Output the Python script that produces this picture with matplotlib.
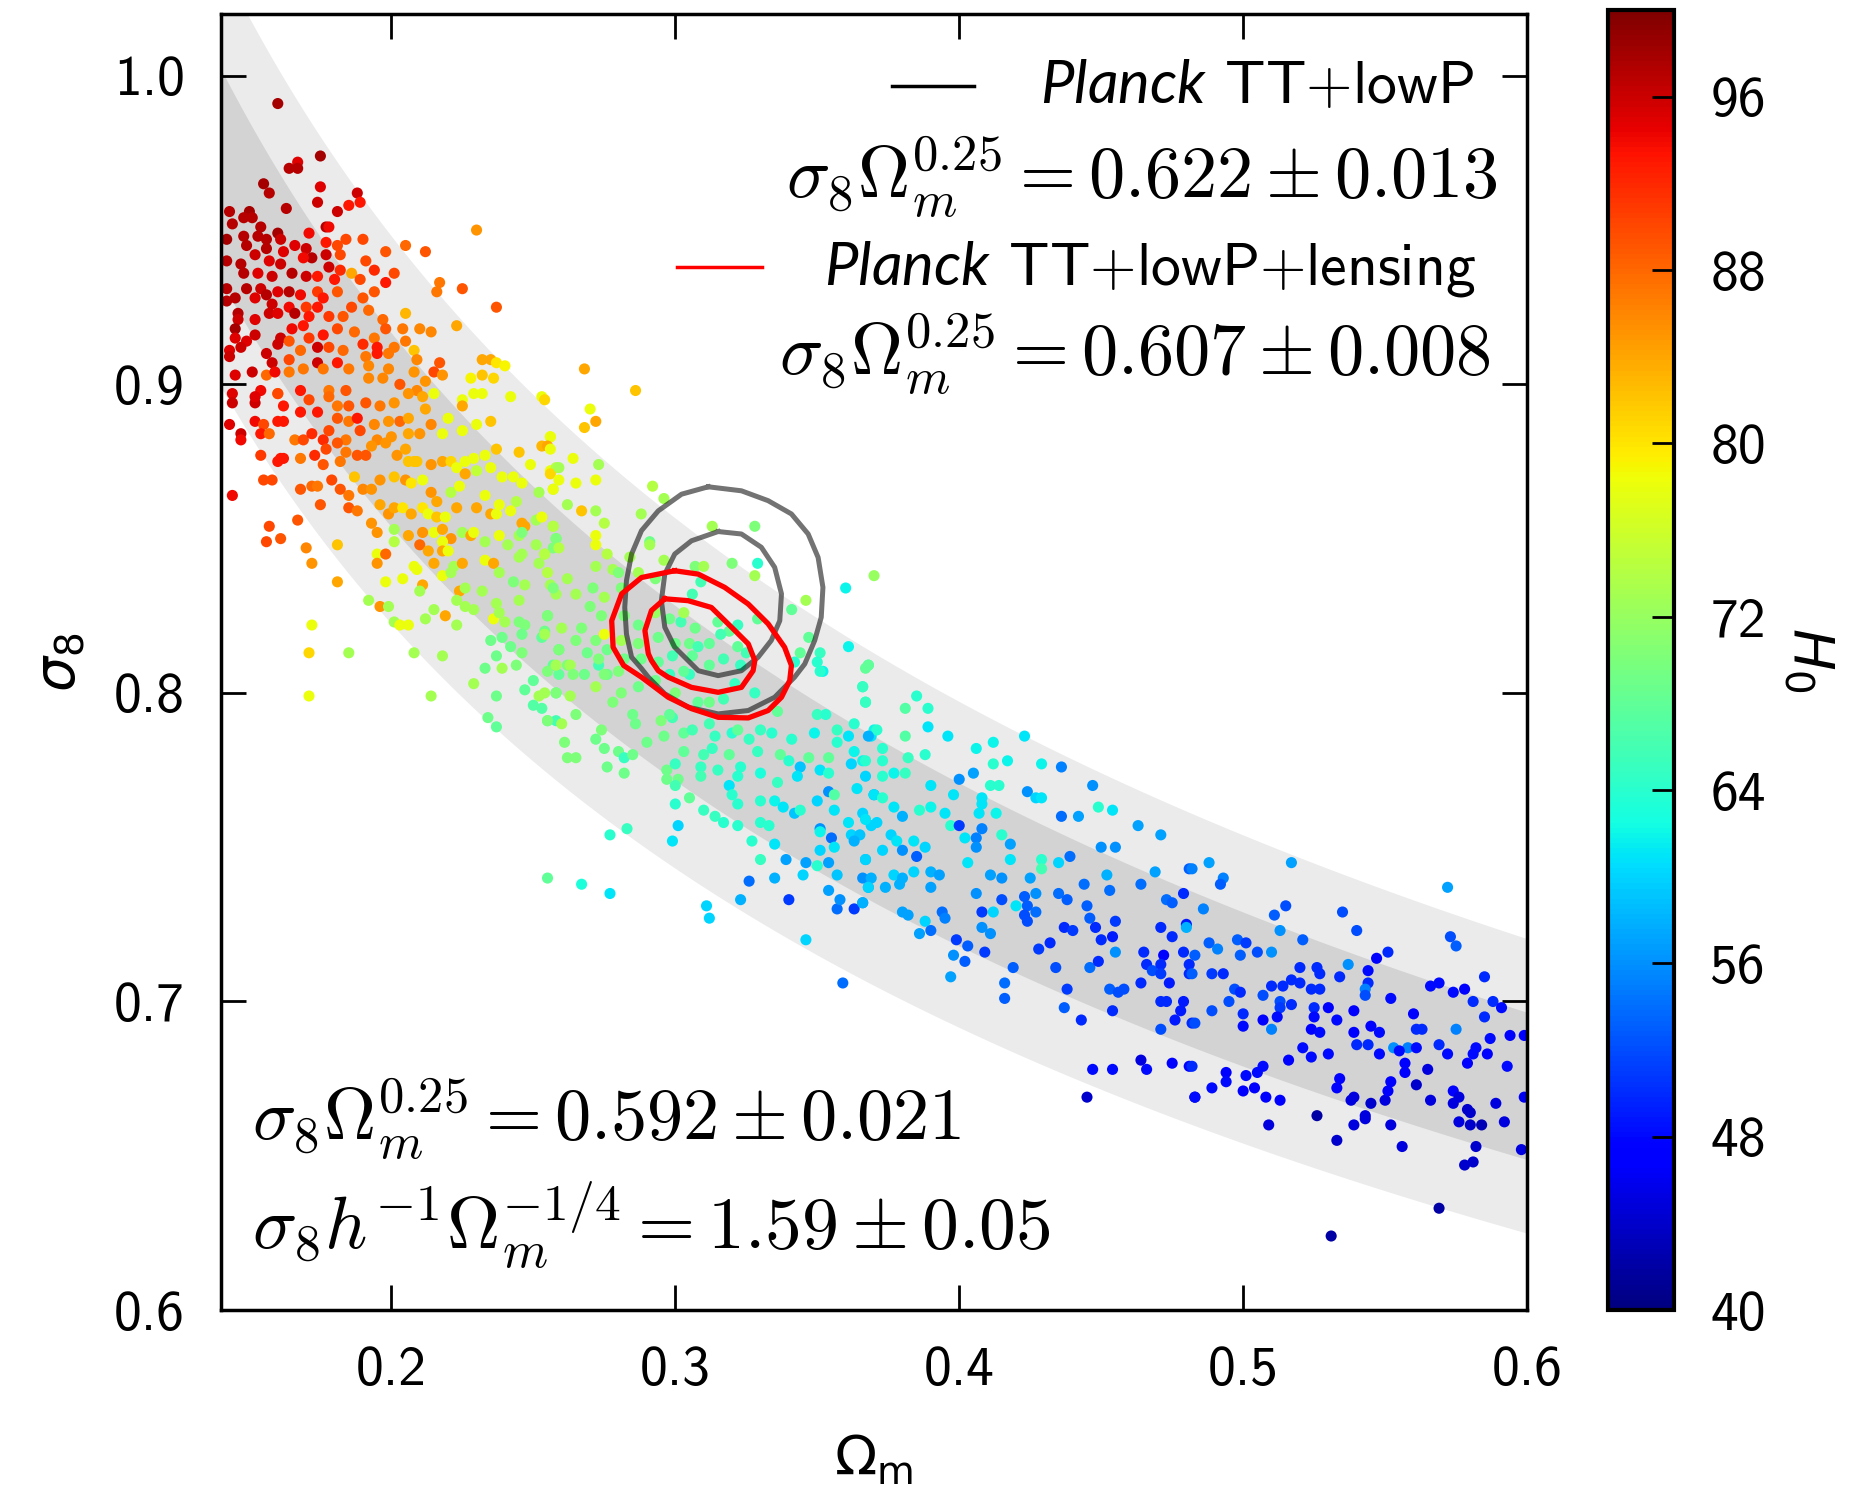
import numpy as np
import matplotlib
matplotlib.use("Agg")
import matplotlib.pyplot as plt

# (Omega_m, sigma_8, H0), grouped by region of the band
red_tail = [
    (0.160, 0.991, 98), (0.175, 0.974, 98), (0.167, 0.972, 95), (0.164, 0.970, 97), (0.167, 0.970, 97),
    (0.155, 0.965, 98), (0.157, 0.962, 97), (0.175, 0.964, 95), (0.188, 0.962, 96), (0.189, 0.959, 93),
    (0.185, 0.958, 93), (0.174, 0.959, 96), (0.163, 0.957, 97), (0.181, 0.956, 96), (0.143, 0.956, 97),
    (0.150, 0.956, 98), (0.148, 0.954, 97), (0.151, 0.954, 97), (0.144, 0.952, 97), (0.177, 0.951, 97),
    (0.178, 0.951, 94), (0.154, 0.951, 97), (0.160, 0.949, 98), (0.171, 0.949, 94), (0.142, 0.947, 98),
    (0.148, 0.948, 97), (0.153, 0.948, 97), (0.156, 0.947, 97), (0.161, 0.947, 96), (0.184, 0.947, 90),
    (0.190, 0.947, 90), (0.205, 0.945, 88), (0.230, 0.950, 85), (0.166, 0.945, 95), (0.170, 0.944, 96),
    (0.177, 0.946, 93), (0.181, 0.945, 90), (0.149, 0.945, 97), (0.156, 0.944, 97), (0.198, 0.943, 89),
    (0.212, 0.943, 89), (0.162, 0.943, 95), (0.177, 0.942, 96), (0.182, 0.942, 90), (0.142, 0.940, 97),
    (0.152, 0.942, 96), (0.172, 0.941, 97), (0.169, 0.941, 94), (0.191, 0.940, 90), (0.157, 0.940, 95),
    (0.161, 0.939, 96), (0.178, 0.938, 96), (0.147, 0.939, 97), (0.194, 0.937, 92), (0.182, 0.937, 92),
    (0.201, 0.936, 90), (0.186, 0.936, 84), (0.148, 0.936, 97), (0.153, 0.936, 95), (0.165, 0.936, 97),
    (0.158, 0.935, 96), (0.170, 0.935, 96), (0.174, 0.935, 93), (0.180, 0.934, 93), (0.189, 0.934, 90),
    (0.198, 0.933, 93), (0.217, 0.933, 87), (0.216, 0.930, 87), (0.225, 0.931, 89), (0.142, 0.931, 97),
    (0.145, 0.928, 97), (0.149, 0.931, 97), (0.154, 0.931, 96), (0.160, 0.930, 95), (0.164, 0.930, 97),
    (0.168, 0.929, 94), (0.174, 0.930, 91), (0.181, 0.930, 89), (0.190, 0.928, 89), (0.194, 0.930, 89),
    (0.156, 0.929, 97), (0.152, 0.928, 95), (0.142, 0.927, 97), (0.176, 0.928, 93), (0.170, 0.925, 91),
    (0.174, 0.925, 93), (0.186, 0.925, 90), (0.192, 0.924, 88), (0.237, 0.925, 89), (0.205, 0.923, 83),
    (0.158, 0.926, 96), (0.164, 0.925, 94), (0.146, 0.923, 97), (0.157, 0.923, 96), (0.160, 0.923, 95),
    (0.166, 0.923, 97), (0.171, 0.922, 93), (0.178, 0.922, 91), (0.183, 0.922, 89), (0.197, 0.921, 88),
    (0.152, 0.921, 95), (0.146, 0.921, 96), (0.145, 0.918, 98), (0.165, 0.918, 94), (0.169, 0.919, 93),
    (0.187, 0.917, 88), (0.181, 0.918, 90), (0.204, 0.918, 87), (0.210, 0.918, 86), (0.214, 0.917, 86),
    (0.223, 0.919, 84), (0.198, 0.918, 89), (0.152, 0.916, 96), (0.145, 0.915, 95), (0.161, 0.915, 96),
    (0.176, 0.916, 93), (0.194, 0.915, 87), (0.149, 0.914, 95), (0.160, 0.913, 96), (0.164, 0.914, 89),
    (0.171, 0.915, 91), (0.178, 0.912, 90), (0.190, 0.913, 92), (0.195, 0.912, 93), (0.201, 0.912, 87),
    (0.205, 0.914, 87), (0.208, 0.911, 82), (0.143, 0.911, 95), (0.147, 0.912, 96), (0.174, 0.912, 96),
    (0.183, 0.911, 88), (0.156, 0.910, 96), (0.168, 0.911, 88), (0.191, 0.909, 87), (0.195, 0.910, 93),
    (0.199, 0.910, 87), (0.232, 0.908, 84), (0.235, 0.908, 84), (0.237, 0.907, 80), (0.240, 0.906, 79),
    (0.143, 0.909, 96), (0.158, 0.907, 96), (0.164, 0.908, 90), (0.174, 0.907, 96), (0.181, 0.907, 93),
    (0.209, 0.908, 86), (0.217, 0.907, 89), (0.164, 0.904, 87), (0.169, 0.905, 87), (0.176, 0.905, 87),
    (0.185, 0.905, 87), (0.192, 0.906, 86), (0.199, 0.905, 86), (0.208, 0.904, 85), (0.215, 0.904, 90),
    (0.218, 0.903, 85), (0.228, 0.902, 79), (0.232, 0.903, 82), (0.236, 0.902, 81), (0.145, 0.903, 95),
    (0.151, 0.904, 96), (0.156, 0.903, 88), (0.159, 0.904, 94), (0.154, 0.898, 94), (0.160, 0.897, 87),
    (0.168, 0.898, 93), (0.178, 0.898, 87), (0.184, 0.898, 89), (0.192, 0.902, 86), (0.197, 0.902, 86),
    (0.203, 0.900, 89), (0.209, 0.898, 86), (0.212, 0.901, 85), (0.229, 0.897, 78), (0.232, 0.897, 78),
    (0.242, 0.896, 78), (0.253, 0.896, 78), (0.225, 0.895, 78), (0.144, 0.897, 95),
]

orange_band = [
    (0.144, 0.894, 96), (0.152, 0.894, 96), (0.147, 0.884, 96), (0.143, 0.887, 95), (0.147, 0.882, 94),
    (0.152, 0.896, 95), (0.160, 0.897, 90), (0.162, 0.893, 93), (0.168, 0.891, 93), (0.171, 0.895, 90),
    (0.174, 0.891, 93), (0.178, 0.896, 88), (0.181, 0.893, 87), (0.185, 0.893, 89), (0.191, 0.894, 89),
    (0.196, 0.893, 87), (0.201, 0.894, 85), (0.206, 0.897, 85), (0.211, 0.896, 84), (0.215, 0.897, 78),
    (0.225, 0.893, 84),
    (0.152, 0.888, 94), (0.155, 0.887, 90), (0.160, 0.888, 93), (0.162, 0.888, 93), (0.154, 0.884, 93),
    (0.157, 0.884, 88), (0.166, 0.882, 87), (0.169, 0.882, 90), (0.172, 0.884, 92), (0.176, 0.882, 92),
    (0.178, 0.885, 90), (0.181, 0.889, 89), (0.185, 0.888, 87), (0.188, 0.889, 93), (0.189, 0.885, 90),
    (0.194, 0.887, 86), (0.199, 0.888, 85), (0.203, 0.888, 88), (0.206, 0.889, 84), (0.212, 0.892, 84),
    (0.220, 0.889, 78), (0.230, 0.887, 78), (0.235, 0.888, 82), (0.225, 0.885, 78), (0.218, 0.884, 78),
    (0.214, 0.887, 86), (0.210, 0.884, 85), (0.206, 0.884, 84), (0.200, 0.883, 85), (0.195, 0.882, 86),
    (0.184, 0.882, 87), (0.181, 0.881, 89),
    (0.154, 0.877, 91), (0.161, 0.876, 93), (0.162, 0.876, 93), (0.160, 0.875, 93), (0.168, 0.876, 87),
    (0.173, 0.877, 92), (0.177, 0.879, 90), (0.176, 0.874, 89), (0.182, 0.875, 87), (0.184, 0.878, 87),
    (0.188, 0.877, 89), (0.191, 0.877, 89), (0.193, 0.880, 85), (0.198, 0.881, 85), (0.202, 0.877, 85),
    (0.205, 0.879, 84), (0.208, 0.875, 82), (0.209, 0.875, 82), (0.206, 0.875, 82), (0.214, 0.874, 85),
    (0.218, 0.875, 84), (0.221, 0.875, 81), (0.223, 0.873, 78), (0.226, 0.875, 78), (0.229, 0.876, 78),
    (0.233, 0.877, 78), (0.237, 0.879, 82), (0.245, 0.878, 82), (0.249, 0.874, 78), (0.253, 0.880, 83),
    (0.256, 0.883, 78), (0.256, 0.872, 78), (0.258, 0.873, 74), (0.230, 0.872, 75), (0.235, 0.873, 78),
    (0.239, 0.870, 78), (0.243, 0.870, 78), (0.246, 0.868, 78),
    (0.155, 0.869, 90), (0.158, 0.869, 90), (0.168, 0.866, 89), (0.172, 0.867, 88), (0.174, 0.867, 87),
    (0.179, 0.869, 90), (0.182, 0.866, 89), (0.185, 0.864, 87), (0.187, 0.870, 82), (0.190, 0.866, 86),
    (0.193, 0.866, 85), (0.196, 0.869, 85), (0.201, 0.870, 82), (0.205, 0.869, 85), (0.207, 0.868, 80),
    (0.211, 0.869, 78), (0.214, 0.865, 85), (0.216, 0.862, 84), (0.221, 0.865, 74), (0.224, 0.867, 78),
    (0.226, 0.871, 84), (0.233, 0.864, 78), (0.238, 0.861, 78), (0.244, 0.862, 74), (0.252, 0.865, 73),
    (0.257, 0.866, 74), (0.144, 0.864, 94),
    (0.175, 0.861, 89), (0.185, 0.860, 89), (0.188, 0.859, 87), (0.196, 0.861, 84), (0.199, 0.858, 85),
    (0.201, 0.860, 84), (0.204, 0.860, 80), (0.207, 0.858, 84), (0.211, 0.860, 80), (0.213, 0.858, 78),
    (0.216, 0.857, 82), (0.219, 0.857, 78), (0.223, 0.860, 84), (0.230, 0.860, 84), (0.235, 0.858, 84),
    (0.237, 0.858, 78), (0.242, 0.859, 78), (0.246, 0.855, 84), (0.247, 0.854, 84), (0.251, 0.856, 73),
    (0.253, 0.857, 78), (0.257, 0.854, 73), (0.258, 0.850, 70),
    (0.157, 0.854, 90), (0.156, 0.849, 90), (0.161, 0.850, 89), (0.167, 0.856, 89), (0.170, 0.847, 86),
    (0.172, 0.842, 85), (0.181, 0.836, 84), (0.181, 0.848, 82), (0.193, 0.855, 85), (0.195, 0.852, 85),
    (0.201, 0.853, 73), (0.201, 0.849, 74), (0.195, 0.845, 78), (0.198, 0.845, 88), (0.195, 0.842, 85),
    (0.206, 0.851, 84), (0.210, 0.848, 88), (0.211, 0.852, 85), (0.215, 0.852, 78), (0.218, 0.853, 84),
    (0.221, 0.850, 85), (0.218, 0.849, 78), (0.213, 0.846, 84), (0.218, 0.846, 84), (0.220, 0.846, 78),
    (0.225, 0.852, 73), (0.228, 0.851, 84), (0.229, 0.852, 78), (0.233, 0.849, 73), (0.238, 0.851, 78),
    (0.241, 0.848, 73), (0.245, 0.851, 73), (0.246, 0.852, 70), (0.251, 0.848, 73), (0.254, 0.845, 73),
    (0.257, 0.847, 70),
    (0.208, 0.841, 78), (0.209, 0.840, 78), (0.215, 0.842, 84), (0.222, 0.841, 73), (0.225, 0.842, 84),
    (0.233, 0.843, 78), (0.236, 0.842, 84), (0.238, 0.839, 73), (0.245, 0.844, 73), (0.246, 0.845, 73),
    (0.252, 0.842, 73), (0.198, 0.836, 78), (0.204, 0.837, 78), (0.211, 0.835, 84), (0.210, 0.833, 73),
    (0.218, 0.838, 78), (0.221, 0.839, 73), (0.224, 0.833, 84), (0.226, 0.834, 73), (0.232, 0.833, 73),
    (0.243, 0.836, 70), (0.247, 0.835, 73), (0.256, 0.835, 73), (0.258, 0.832, 73), (0.245, 0.830, 73),
    (0.237, 0.829, 73), (0.223, 0.830, 73), (0.226, 0.828, 73), (0.229, 0.827, 73), (0.236, 0.824, 78),
    (0.238, 0.826, 73), (0.240, 0.823, 73), (0.245, 0.823, 70), (0.247, 0.822, 70), (0.255, 0.825, 69),
    (0.192, 0.830, 73), (0.196, 0.828, 85), (0.199, 0.828, 73), (0.215, 0.827, 73), (0.219, 0.825, 84),
    (0.201, 0.823, 73), (0.203, 0.822, 78), (0.206, 0.822, 78), (0.212, 0.824, 73), (0.223, 0.822, 73),
    (0.172, 0.822, 78), (0.171, 0.813, 81), (0.185, 0.813, 73), (0.208, 0.813, 73), (0.218, 0.812, 73),
    (0.235, 0.817, 69), (0.239, 0.818, 69), (0.242, 0.815, 69), (0.237, 0.812, 69), (0.233, 0.808, 69),
    (0.239, 0.808, 73), (0.244, 0.809, 70), (0.246, 0.813, 70), (0.246, 0.819, 69), (0.253, 0.818, 68),
    (0.254, 0.820, 69), (0.259, 0.814, 67), (0.257, 0.809, 68), (0.259, 0.806, 68),
    (0.229, 0.803, 73), (0.237, 0.799, 69), (0.247, 0.801, 68), (0.250, 0.804, 68), (0.252, 0.799, 73),
    (0.250, 0.796, 67), (0.253, 0.795, 67), (0.258, 0.800, 67), (0.171, 0.799, 78), (0.214, 0.799, 73),
    (0.234, 0.792, 69), (0.237, 0.789, 68), (0.255, 0.791, 67), (0.258, 0.791, 66),
]

green_core = [
    (0.268, 0.905, 84), (0.286, 0.898, 82), (0.254, 0.895, 81), (0.270, 0.892, 78), (0.268, 0.886, 82),
    (0.272, 0.888, 84), (0.256, 0.883, 78), (0.255, 0.880, 84), (0.256, 0.879, 78), (0.264, 0.876, 78),
    (0.256, 0.871, 81), (0.259, 0.869, 78), (0.259, 0.873, 73), (0.265, 0.868, 78), (0.272, 0.869, 78),
    (0.273, 0.874, 73), (0.257, 0.866, 78), (0.262, 0.861, 73), (0.267, 0.859, 82), (0.272, 0.859, 73),
    (0.275, 0.855, 74), (0.292, 0.867, 74), (0.296, 0.863, 73), (0.288, 0.858, 73), (0.257, 0.854, 74),
    (0.272, 0.851, 78), (0.258, 0.850, 70), (0.272, 0.848, 78), (0.276, 0.845, 74), (0.254, 0.845, 74),
    (0.259, 0.847, 74), (0.291, 0.849, 69), (0.291, 0.848, 73), (0.313, 0.854, 73), (0.328, 0.854, 70),
    (0.284, 0.844, 73), (0.296, 0.843, 73), (0.272, 0.841, 73), (0.307, 0.841, 70), (0.310, 0.841, 73),
    (0.320, 0.842, 70), (0.329, 0.842, 64), (0.328, 0.838, 73), (0.370, 0.838, 72), (0.360, 0.834, 62),
    (0.346, 0.830, 73), (0.255, 0.839, 74), (0.262, 0.837, 73), (0.278, 0.840, 73), (0.280, 0.839, 70),
    (0.287, 0.839, 73), (0.293, 0.837, 70), (0.309, 0.836, 66), (0.257, 0.834, 70), (0.265, 0.832, 73),
    (0.271, 0.834, 70), (0.275, 0.831, 73), (0.281, 0.834, 70), (0.270, 0.828, 70), (0.274, 0.825, 70),
    (0.255, 0.825, 70), (0.282, 0.825, 70), (0.287, 0.822, 69), (0.293, 0.826, 72), (0.298, 0.824, 69),
    (0.302, 0.823, 66), (0.306, 0.832, 66), (0.303, 0.826, 73), (0.307, 0.821, 69), (0.315, 0.823, 68),
    (0.319, 0.820, 68), (0.322, 0.822, 65), (0.329, 0.824, 68), (0.341, 0.827, 68), (0.347, 0.818, 68),
    (0.361, 0.815, 62), (0.368, 0.809, 65), (0.351, 0.813, 65), (0.344, 0.813, 68), (0.260, 0.821, 73),
    (0.254, 0.819, 73), (0.267, 0.821, 70), (0.265, 0.817, 70), (0.272, 0.817, 70), (0.275, 0.819, 78),
    (0.281, 0.817, 73), (0.287, 0.816, 70), (0.294, 0.818, 69), (0.300, 0.816, 69), (0.305, 0.816, 69),
    (0.308, 0.815, 66), (0.312, 0.816, 68), (0.316, 0.819, 66), (0.322, 0.815, 68), (0.325, 0.813, 66),
    (0.259, 0.814, 70), (0.269, 0.813, 69), (0.276, 0.814, 69), (0.282, 0.811, 69), (0.288, 0.811, 69),
    (0.294, 0.810, 68), (0.299, 0.812, 66), (0.306, 0.812, 68), (0.312, 0.809, 68), (0.317, 0.811, 66),
    (0.323, 0.809, 65), (0.262, 0.809, 70), (0.273, 0.809, 66), (0.255, 0.807, 70), (0.268, 0.806, 69),
    (0.276, 0.806, 69), (0.298, 0.806, 65), (0.305, 0.806, 65), (0.342, 0.810, 64), (0.350, 0.810, 64),
    (0.352, 0.807, 62),
]

cyan_mid = [
    (0.258, 0.809, 73), (0.263, 0.809, 73), (0.264, 0.806, 70), (0.273, 0.811, 70), (0.275, 0.806, 70),
    (0.280, 0.807, 70), (0.254, 0.800, 73), (0.258, 0.800, 70), (0.263, 0.799, 73), (0.272, 0.802, 73),
    (0.278, 0.797, 70), (0.281, 0.800, 70), (0.287, 0.802, 69), (0.293, 0.804, 69), (0.300, 0.800, 70),
    (0.303, 0.807, 68), (0.308, 0.797, 68), (0.312, 0.797, 69), (0.317, 0.798, 66), (0.321, 0.803, 65),
    (0.328, 0.800, 65), (0.336, 0.794, 68), (0.351, 0.807, 64), (0.367, 0.808, 68), (0.366, 0.802, 64),
    (0.367, 0.797, 64), (0.255, 0.791, 70), (0.260, 0.790, 73), (0.265, 0.793, 70), (0.274, 0.788, 70),
    (0.285, 0.793, 69), (0.286, 0.790, 69), (0.295, 0.791, 70), (0.299, 0.792, 66), (0.298, 0.793, 68),
    (0.303, 0.787, 68), (0.306, 0.788, 66), (0.312, 0.790, 66), (0.314, 0.786, 65), (0.320, 0.787, 64),
    (0.322, 0.788, 68), (0.326, 0.785, 65), (0.330, 0.788, 65), (0.334, 0.787, 64), (0.341, 0.785, 64),
    (0.349, 0.787, 62), (0.357, 0.788, 65), (0.363, 0.790, 64), (0.370, 0.788, 62), (0.350, 0.793, 65),
    (0.353, 0.793, 64), (0.361, 0.786, 61), (0.369, 0.786, 61), (0.261, 0.784, 70), (0.272, 0.785, 69),
    (0.275, 0.782, 69), (0.280, 0.781, 69), (0.290, 0.784, 69), (0.296, 0.786, 69), (0.303, 0.781, 68),
    (0.310, 0.780, 66), (0.313, 0.782, 65), (0.319, 0.780, 68), (0.323, 0.776, 64), (0.329, 0.781, 65),
    (0.337, 0.780, 68), (0.340, 0.778, 64), (0.347, 0.779, 68), (0.354, 0.779, 68), (0.357, 0.784, 64),
    (0.363, 0.781, 62), (0.366, 0.778, 62), (0.262, 0.779, 70), (0.265, 0.779, 70), (0.282, 0.779, 65),
    (0.285, 0.780, 69), (0.276, 0.776, 69), (0.282, 0.774, 69), (0.297, 0.775, 69), (0.300, 0.777, 65),
    (0.309, 0.776, 65), (0.315, 0.775, 65), (0.322, 0.773, 64), (0.330, 0.774, 63), (0.336, 0.771, 65),
    (0.344, 0.776, 59), (0.343, 0.773, 61), (0.351, 0.775, 61), (0.354, 0.774, 64), (0.362, 0.777, 60),
    (0.364, 0.769, 61), (0.367, 0.773, 60), (0.370, 0.767, 57), (0.297, 0.772, 69), (0.301, 0.772, 69),
    (0.309, 0.773, 66), (0.300, 0.770, 66), (0.319, 0.770, 61), (0.320, 0.767, 64), (0.305, 0.766, 68),
    (0.310, 0.762, 65), (0.314, 0.760, 65), (0.317, 0.758, 64), (0.322, 0.764, 64), (0.322, 0.757, 64),
    (0.300, 0.764, 64), (0.301, 0.757, 60), (0.299, 0.752, 61), (0.283, 0.756, 65), (0.277, 0.754, 64),
    (0.255, 0.740, 68), (0.267, 0.738, 63), (0.277, 0.735, 61), (0.330, 0.765, 64), (0.335, 0.765, 62),
    (0.338, 0.763, 61), (0.342, 0.761, 59), (0.344, 0.762, 64), (0.350, 0.765, 60), (0.354, 0.768, 56),
    (0.356, 0.767, 67), (0.356, 0.762, 61), (0.361, 0.758, 61), (0.366, 0.761, 60), (0.369, 0.757, 60),
    (0.330, 0.758, 64), (0.333, 0.757, 64), (0.327, 0.752, 64), (0.335, 0.751, 61), (0.351, 0.756, 56),
    (0.351, 0.755, 62), (0.355, 0.753, 54), (0.356, 0.750, 61), (0.351, 0.749, 60), (0.362, 0.754, 60),
    (0.365, 0.754, 59), (0.363, 0.752, 58), (0.367, 0.746, 58), (0.339, 0.746, 57), (0.346, 0.745, 57),
    (0.350, 0.744, 64), (0.354, 0.745, 57), (0.330, 0.746, 65), (0.335, 0.740, 58), (0.345, 0.741, 60),
    (0.357, 0.741, 59), (0.366, 0.740, 56), (0.368, 0.737, 57), (0.326, 0.739, 54), (0.323, 0.733, 58),
    (0.340, 0.733, 51), (0.354, 0.736, 57), (0.357, 0.730, 54), (0.358, 0.733, 56), (0.363, 0.730, 51),
    (0.366, 0.732, 56), (0.311, 0.731, 60), (0.312, 0.727, 60), (0.346, 0.720, 60), (0.359, 0.706, 54),
]

blue_mid = [
    (0.368, 0.809, 68), (0.366, 0.802, 65), (0.367, 0.797, 65), (0.385, 0.799, 64), (0.381, 0.795, 67),
    (0.389, 0.795, 64), (0.389, 0.789, 61), (0.396, 0.786, 61), (0.381, 0.786, 67), (0.371, 0.788, 64),
    (0.368, 0.786, 58), (0.373, 0.782, 64), (0.382, 0.779, 65), (0.388, 0.780, 64), (0.406, 0.782, 62),
    (0.412, 0.784, 62), (0.423, 0.786, 61), (0.412, 0.777, 64), (0.417, 0.778, 62), (0.429, 0.777, 62),
    (0.436, 0.776, 55), (0.373, 0.778, 64), (0.367, 0.778, 64), (0.377, 0.774, 62), (0.373, 0.773, 64),
    (0.381, 0.774, 65), (0.405, 0.774, 57), (0.400, 0.772, 56), (0.390, 0.770, 61), (0.398, 0.767, 61),
    (0.408, 0.766, 61), (0.411, 0.770, 64), (0.414, 0.770, 64), (0.424, 0.768, 56), (0.427, 0.766, 60),
    (0.429, 0.766, 61), (0.447, 0.770, 56), (0.370, 0.767, 61), (0.373, 0.766, 64), (0.377, 0.763, 61),
    (0.380, 0.760, 58), (0.386, 0.762, 64), (0.390, 0.763, 62), (0.395, 0.761, 61), (0.407, 0.761, 61),
    (0.408, 0.764, 61), (0.413, 0.761, 62), (0.436, 0.760, 54), (0.442, 0.760, 57), (0.449, 0.763, 64),
    (0.454, 0.762, 61), (0.367, 0.759, 61), (0.371, 0.758, 60), (0.397, 0.757, 64), (0.400, 0.757, 51),
    (0.408, 0.756, 55), (0.463, 0.757, 57), (0.471, 0.754, 57), (0.376, 0.754, 60), (0.378, 0.752, 61),
    (0.384, 0.752, 61), (0.388, 0.750, 60), (0.402, 0.753, 61), (0.406, 0.753, 55), (0.415, 0.754, 64),
    (0.418, 0.751, 57), (0.406, 0.750, 56), (0.450, 0.750, 56), (0.455, 0.750, 56), (0.439, 0.747, 54),
    (0.373, 0.749, 60), (0.367, 0.746, 60), (0.380, 0.749, 56), (0.385, 0.747, 53), (0.403, 0.745, 61),
    (0.418, 0.746, 61), (0.429, 0.746, 64), (0.429, 0.743, 66), (0.435, 0.745, 60), (0.452, 0.741, 58),
    (0.469, 0.742, 57), (0.481, 0.743, 53), (0.369, 0.740, 58), (0.377, 0.741, 60), (0.380, 0.740, 58),
    (0.384, 0.742, 60), (0.390, 0.742, 58), (0.393, 0.741, 57), (0.411, 0.741, 57), (0.415, 0.740, 56),
    (0.425, 0.740, 57), (0.444, 0.738, 54), (0.453, 0.736, 54), (0.464, 0.738, 54), (0.479, 0.735, 50),
    (0.368, 0.737, 60), (0.374, 0.737, 58), (0.379, 0.738, 58), (0.390, 0.737, 57), (0.406, 0.735, 56),
    (0.415, 0.733, 52), (0.423, 0.734, 53), (0.427, 0.735, 56), (0.435, 0.735, 54), (0.438, 0.733, 53),
    (0.445, 0.731, 53), (0.473, 0.733, 54), (0.475, 0.732, 53), (0.366, 0.732, 58), (0.408, 0.729, 51),
    (0.412, 0.729, 60), (0.420, 0.731, 61), (0.424, 0.731, 53), (0.427, 0.729, 54), (0.423, 0.728, 52),
    (0.380, 0.729, 57), (0.382, 0.728, 57), (0.394, 0.729, 54), (0.395, 0.727, 55), (0.388, 0.726, 60),
    (0.446, 0.727, 53), (0.455, 0.726, 51), (0.424, 0.726, 52), (0.386, 0.722, 57), (0.390, 0.723, 54),
    (0.408, 0.724, 56), (0.411, 0.722, 56), (0.437, 0.724, 50), (0.440, 0.723, 51), (0.448, 0.724, 50),
    (0.450, 0.720, 50), (0.454, 0.721, 49), (0.471, 0.724, 50), (0.475, 0.721, 50), (0.480, 0.725, 49),
    (0.480, 0.724, 58), (0.399, 0.720, 51), (0.403, 0.718, 53), (0.409, 0.716, 51), (0.428, 0.717, 51),
    (0.432, 0.719, 50), (0.455, 0.716, 56), (0.465, 0.716, 50), (0.472, 0.715, 47), (0.479, 0.716, 50),
    (0.398, 0.715, 56),
    (0.402, 0.713, 53), (0.397, 0.708, 57), (0.416, 0.706, 54), (0.416, 0.701, 53), (0.419, 0.711, 53),
    (0.434, 0.711, 52), (0.438, 0.704, 51), (0.437, 0.698, 53), (0.443, 0.694, 50), (0.446, 0.711, 54),
    (0.449, 0.713, 50), (0.453, 0.704, 53), (0.456, 0.703, 52), (0.458, 0.704, 52), (0.454, 0.697, 50),
    (0.464, 0.706, 50), (0.466, 0.712, 50), (0.468, 0.710, 52), (0.471, 0.712, 50), (0.471, 0.709, 51),
    (0.474, 0.706, 49), (0.471, 0.700, 50), (0.473, 0.700, 50), (0.479, 0.700, 49), (0.478, 0.697, 49),
    (0.476, 0.694, 49), (0.471, 0.691, 52), (0.482, 0.693, 50), (0.481, 0.712, 50), (0.481, 0.709, 50),
    (0.464, 0.681, 45), (0.466, 0.678, 48), (0.475, 0.680, 47), (0.481, 0.679, 47), (0.447, 0.678, 48),
    (0.454, 0.678, 48), (0.445, 0.669, 44), (0.483, 0.669, 44),
]

blue_tail = [
    (0.482, 0.743, 55), (0.488, 0.745, 57), (0.517, 0.745, 57), (0.572, 0.737, 57), (0.493, 0.740, 55),
    (0.492, 0.738, 53), (0.486, 0.730, 55), (0.515, 0.731, 52), (0.511, 0.728, 53), (0.535, 0.729, 52),
    (0.513, 0.723, 56), (0.540, 0.723, 52), (0.573, 0.721, 52), (0.575, 0.718, 53), (0.488, 0.719, 53),
    (0.491, 0.717, 55), (0.498, 0.720, 53), (0.501, 0.719, 51), (0.499, 0.715, 53), (0.505, 0.716, 52),
    (0.510, 0.716, 56), (0.521, 0.720, 53), (0.483, 0.715, 53), (0.482, 0.709, 53), (0.489, 0.709, 51),
    (0.493, 0.709, 50), (0.497, 0.704, 52), (0.499, 0.703, 50), (0.495, 0.700, 52), (0.507, 0.702, 52),
    (0.510, 0.705, 50), (0.514, 0.705, 50), (0.517, 0.707, 50), (0.520, 0.711, 50), (0.520, 0.706, 50),
    (0.513, 0.700, 52), (0.517, 0.699, 50), (0.513, 0.698, 51), (0.524, 0.704, 50), (0.527, 0.704, 50),
    (0.526, 0.711, 50), (0.527, 0.709, 50), (0.534, 0.708, 50), (0.537, 0.712, 56), (0.544, 0.710, 48),
    (0.544, 0.706, 50), (0.543, 0.704, 55), (0.543, 0.702, 52), (0.547, 0.714, 47), (0.551, 0.716, 50),
    (0.552, 0.701, 48), (0.566, 0.705, 48), (0.569, 0.706, 48), (0.574, 0.703, 48), (0.578, 0.704, 47),
    (0.585, 0.708, 50), (0.581, 0.700, 50), (0.588, 0.700, 50), (0.591, 0.698, 48), (0.489, 0.697, 52),
    (0.483, 0.693, 52), (0.500, 0.696, 50), (0.500, 0.692, 48), (0.507, 0.694, 47), (0.510, 0.691, 55),
    (0.512, 0.695, 48), (0.525, 0.698, 50), (0.525, 0.695, 48), (0.530, 0.698, 47), (0.533, 0.694, 48),
    (0.524, 0.691, 47), (0.527, 0.690, 48), (0.539, 0.697, 47), (0.539, 0.690, 47), (0.545, 0.692, 47),
    (0.548, 0.690, 48), (0.560, 0.696, 47), (0.561, 0.691, 50), (0.563, 0.691, 50), (0.575, 0.691, 55),
    (0.585, 0.695, 50), (0.594, 0.689, 47), (0.587, 0.688, 48), (0.540, 0.686, 50), (0.544, 0.686, 50),
    (0.553, 0.685, 56), (0.558, 0.685, 55), (0.555, 0.684, 48), (0.561, 0.685, 48), (0.569, 0.686, 50),
    (0.572, 0.683, 48), (0.582, 0.685, 48), (0.581, 0.683, 48), (0.586, 0.683, 47), (0.599, 0.689, 47),
    (0.521, 0.685, 48), (0.524, 0.682, 48), (0.530, 0.683, 48), (0.516, 0.681, 47), (0.548, 0.683, 48),
    (0.557, 0.680, 47), (0.557, 0.677, 47), (0.565, 0.678, 45), (0.579, 0.680, 47), (0.593, 0.679, 48),
    (0.482, 0.679, 50), (0.494, 0.677, 47), (0.494, 0.674, 48), (0.507, 0.679, 48), (0.505, 0.677, 48),
    (0.501, 0.676, 48), (0.489, 0.672, 48), (0.500, 0.671, 47), (0.504, 0.672, 47), (0.508, 0.669, 47),
    (0.513, 0.668, 47), (0.483, 0.669, 48), (0.533, 0.672, 47), (0.534, 0.675, 47), (0.539, 0.669, 45),
    (0.538, 0.668, 45), (0.545, 0.667, 44), (0.550, 0.668, 45), (0.552, 0.674, 47), (0.551, 0.671, 47),
    (0.561, 0.673, 44), (0.566, 0.668, 45), (0.574, 0.671, 47), (0.574, 0.667, 45), (0.576, 0.669, 45),
    (0.579, 0.665, 44), (0.580, 0.664, 44), (0.589, 0.667, 45), (0.526, 0.663, 42), (0.543, 0.663, 45),
    (0.509, 0.660, 45), (0.539, 0.660, 45), (0.543, 0.662, 45), (0.552, 0.660, 45), (0.533, 0.655, 44),
    (0.556, 0.653, 45), (0.576, 0.661, 45), (0.580, 0.660, 44), (0.584, 0.660, 43), (0.592, 0.661, 45),
    (0.582, 0.653, 44), (0.581, 0.648, 44), (0.578, 0.647, 44), (0.598, 0.652, 45), (0.569, 0.633, 42),
    (0.531, 0.624, 42), (0.599, 0.669, 46),
]

# Planck contours (Omega_m, sigma_8)
tt_outer_om = [0.3116, 0.3233, 0.3327, 0.3409, 0.3468, 0.3503, 0.3520, 0.3514, 0.3491, 0.3456, 0.3420,
               0.3350, 0.3257, 0.3151, 0.3045, 0.2963, 0.2905, 0.2880, 0.2846, 0.2828, 0.2822, 0.2828,
               0.2846, 0.2881, 0.2940, 0.3022]
tt_outer_s8 = [0.8668, 0.8655, 0.8623, 0.8580, 0.8515, 0.8439, 0.8342, 0.8245, 0.8170, 0.8094, 0.8051,
               0.7986, 0.7943, 0.7932, 0.7954, 0.7997, 0.8051, 0.8080, 0.8116, 0.8191, 0.8277, 0.8364,
               0.8450, 0.8526, 0.8590, 0.8644]
tt_inner_om = [0.3151, 0.3233, 0.3303, 0.3350, 0.3374, 0.3368, 0.3338, 0.3292, 0.3233, 0.3151, 0.3081,
               0.3045, 0.2998, 0.2963, 0.2951, 0.2963, 0.2998, 0.3057]
tt_inner_s8 = [0.8523, 0.8515, 0.8472, 0.8407, 0.8321, 0.8234, 0.8170, 0.8116, 0.8072, 0.8056, 0.8072,
               0.8105, 0.8148, 0.8213, 0.8299, 0.8385, 0.8450, 0.8493]
lens_outer_om = [0.2998, 0.3081, 0.3174, 0.3257, 0.3327, 0.3385, 0.3409, 0.3403, 0.3374, 0.3327, 0.3257,
                 0.3151, 0.3057, 0.2975, 0.2881, 0.2818, 0.2781, 0.2776, 0.2811, 0.2881]
lens_outer_s8 = [0.8396, 0.8385, 0.8342, 0.8288, 0.8224, 0.8148, 0.8089, 0.8040, 0.7986, 0.7943, 0.7919,
                 0.7921, 0.7949, 0.7986, 0.8051, 0.8089, 0.8148, 0.8234, 0.8321, 0.8374]
lens_inner_om = [0.2963, 0.3045, 0.3127, 0.3198, 0.3257, 0.3280, 0.3274, 0.3233, 0.3151, 0.3057, 0.2975,
                 0.2940, 0.2916, 0.2905, 0.2893, 0.2916]
lens_inner_s8 = [0.8305, 0.8299, 0.8277, 0.8213, 0.8159, 0.8105, 0.8072, 0.8018, 0.8002, 0.8018, 0.8051,
                 0.8072, 0.8105, 0.8127, 0.8202, 0.8267]

# sigma_8 Omega_m^0.25 band from the fit quoted in the panel
band_amp = 0.592
band_err = 0.021
band_slope = 0.25

plt.rcParams["font.family"] = "cmss10"
plt.rcParams["mathtext.fontset"] = "cm"
plt.rcParams["mathtext.rm"] = "cmss10"
plt.rcParams["mathtext.it"] = "Lato:italic"
plt.rcParams["axes.unicode_minus"] = False

fig = plt.figure(figsize=(18.51, 14.95), dpi=100)
ax = fig.add_axes([0.1194, 0.1237, 0.7056, 0.8669])

om_grid = np.linspace(0.14, 0.6, 400)
scale = om_grid ** band_slope
ax.fill_between(om_grid, (band_amp - 2 * band_err) / scale, (band_amp + 2 * band_err) / scale,
                color="#ebebeb", lw=0, zorder=0)
ax.fill_between(om_grid, (band_amp - band_err) / scale, (band_amp + band_err) / scale,
                color="#d3d3d3", lw=0, zorder=0)

pts = np.array(red_tail + orange_band + green_core + cyan_mid + blue_mid + blue_tail)
sc = ax.scatter(pts[:, 0], pts[:, 1], c=pts[:, 2], cmap="jet", vmin=40, vmax=100,
                s=64, linewidths=0, zorder=2)


def closed(xs, ys):
    return list(xs) + [xs[0]], list(ys) + [ys[0]]


for xs, ys in [(tt_outer_om, tt_outer_s8), (tt_inner_om, tt_inner_s8)]:
    cx, cy = closed(xs, ys)
    ax.plot(cx, cy, color="k", alpha=0.55, lw=3.6, zorder=3, solid_joinstyle="round")
for xs, ys in [(lens_outer_om, lens_outer_s8), (lens_inner_om, lens_inner_s8)]:
    cx, cy = closed(xs, ys)
    ax.plot(cx, cy, color="red", lw=3.8, zorder=4, solid_joinstyle="round")

ax.set_xlim(0.14, 0.6)
ax.set_ylim(0.6, 1.02)
ax.set_xticks([0.2, 0.3, 0.4, 0.5, 0.6])
ax.set_yticks([0.6, 0.7, 0.8, 0.9, 1.0])
ax.tick_params(direction="in", top=True, right=True, length=18, width=2, labelsize=40, pad=26)
for sp in ax.spines.values():
    sp.set_linewidth(2.5)

ax.set_xlabel(r"$\Omega_\mathrm{m}$", fontsize=40, math_fontfamily="dejavusans", labelpad=26)
ax.set_ylabel(r"$\sigma_8$", fontsize=40, math_fontfamily="dejavusans", labelpad=20)

# legend drawn by hand: rows are right-aligned in the reference
ax.plot([0.5136, 0.5769], [0.9444, 0.9444], transform=ax.transAxes, color="k", lw=2.5)
ax.plot([0.3490, 0.4141], [0.8051, 0.8051], transform=ax.transAxes, color="red", lw=2.5)
ax.text(0.9593, 0.9426, r"$\mathit{Planck}$ TT+lowP", transform=ax.transAxes,
        ha="right", va="center", fontsize=43, math_fontfamily="custom")
ax.text(0.9774, 0.8743, r"$\sigma_8\Omega_m^{0.25} = 0.622 \pm 0.013$", transform=ax.transAxes,
        ha="right", va="center", fontsize=52)
ax.text(0.9611, 0.8033, r"$\mathit{Planck}$ TT+lowP+lensing", transform=ax.transAxes,
        ha="right", va="center", fontsize=43, math_fontfamily="custom")
ax.text(0.9720, 0.7377, r"$\sigma_8\Omega_m^{0.25} = 0.607 \pm 0.008$", transform=ax.transAxes,
        ha="right", va="center", fontsize=52)

ax.text(0.0235, 0.1475, r"$\sigma_8\Omega_m^{0.25} = 0.592 \pm 0.021$", transform=ax.transAxes,
        ha="left", va="center", fontsize=52)
ax.text(0.0235, 0.0656, r"$\sigma_8 h^{-1}\Omega_m^{-1/4} = 1.59 \pm 0.05$", transform=ax.transAxes,
        ha="left", va="center", fontsize=53)

cax = fig.add_axes([0.8687, 0.1237, 0.0357, 0.8696])
cb = fig.colorbar(sc, cax=cax, ticks=[40, 48, 56, 64, 72, 80, 88, 96])
cb.outline.set_linewidth(3)
cb.ax.tick_params(direction="in", length=16, width=2, labelsize=40, pad=26)
cb.set_label(r"$H_0$", rotation=270, fontsize=40, labelpad=50, math_fontfamily="dejavusans")

fig.savefig("out.png", dpi=100)
